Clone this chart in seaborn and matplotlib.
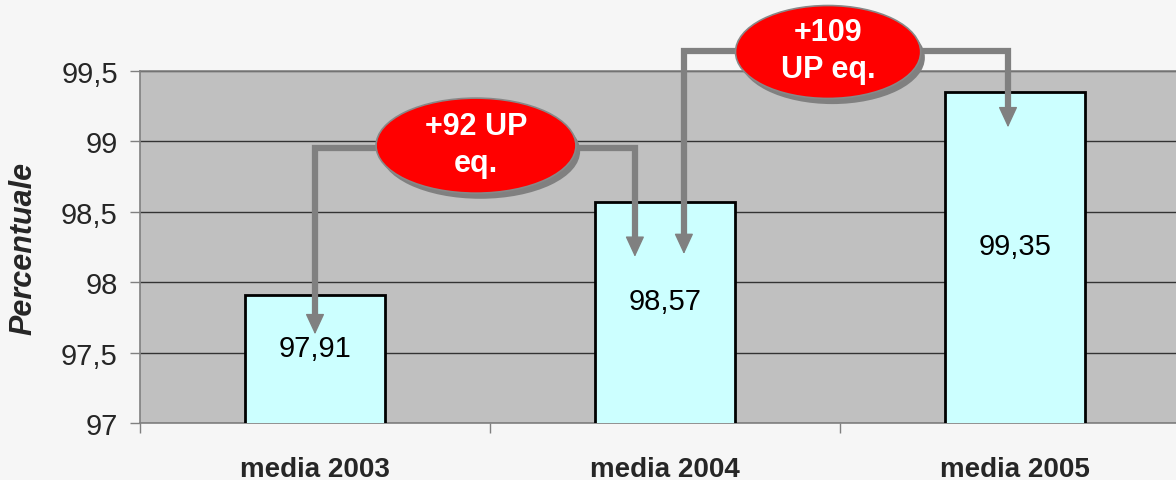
import matplotlib
matplotlib.use("Agg")
import matplotlib.pyplot as plt
import seaborn as sns
import pandas as pd
from matplotlib.patches import Ellipse
from matplotlib.ticker import FixedLocator, FuncFormatter

categories = ["media 2003", "media 2004", "media 2005"]
values = [97.91, 98.57, 99.35]
value_labels = ["97,91", "98,57", "99,35"]
bubble_texts = ["+92 UP\neq.", "+109\nUP eq."]
y_ticks = [97, 97.5, 98, 98.5, 99, 99.5]

sns.set_theme(style="white")
plt.rcParams['font.family'] = ['Liberation Sans', 'DejaVu Sans']

fig = plt.figure(figsize=(11.76, 4.81), dpi=100)
fig.patch.set_facecolor("#F6F6F6")
W, H = 1176, 481
ax = fig.add_axes([140 / W, (H - 424) / H, 1050 / W, 352 / H])
ax.set_facecolor("#C0C0C0")

df = pd.DataFrame({"cat": categories, "val": values})
sns.barplot(data=df, x="cat", y="val", ax=ax, color="#CCFFFF", saturation=1,
            edgecolor="black", linewidth=2, width=0.4, zorder=3)

ax.set_ylim(97, 99.5)
ax.set_xlim(-0.5, 2.5)
ax.set_yticks(y_ticks)
ax.yaxis.set_major_formatter(FuncFormatter(lambda v, p: (f"{v:g}").replace(".", ",")))
ax.yaxis.grid(True, color="#333333", linewidth=1)
ax.set_axisbelow(True)
for s in ax.spines.values():
    s.set_color("#808080")
    s.set_linewidth(1.2)
ax.tick_params(axis="y", which="major", direction="out", length=7, width=1,
               color="#808080", labelsize=21, pad=9, left=True)
ax.tick_params(axis="x", which="major", length=0, labelsize=20, pad=24)
ax.xaxis.set_minor_locator(FixedLocator([-0.5, 0.5, 1.5, 2.5]))
ax.tick_params(axis="x", which="minor", direction="out", length=7, width=1,
               color="#808080", bottom=True)
for lab in ax.get_xticklabels():
    lab.set_fontweight("bold")
ax.set_xlabel("")
ax.set_ylabel("Percentuale", fontsize=22, fontweight="bold", fontstyle="italic", labelpad=16)

# value labels inside bars
for i, (v, t) in enumerate(zip(values, value_labels)):
    ax.text(i, 97 + (v - 97) / 2 + 0.08, t, ha="center", va="center",
            fontsize=21, color="black", zorder=5)

arrow_col = "#808080"
head = dict(arrowstyle="-|>,head_width=0.6,head_length=1.3", mutation_scale=10,
            color=arrow_col, lw=1, shrinkA=0, shrinkB=0)

def elbow(xs, ys):
    ax.plot([xs[0]] + xs[1:-1] + [xs[-1]], [ys[0] + 0.1] + ys[1:-1] + [ys[-1] + 0.1],
            color=arrow_col, linewidth=4.5, solid_joinstyle="miter",
            solid_capstyle="butt", clip_on=False, zorder=6)
    for x, y in ((xs[0], ys[0]), (xs[-1], ys[-1])):
        ax.annotate("", xy=(x, y), xytext=(x, y + 0.14),
                    arrowprops=head, annotation_clip=False, zorder=6)

# arrow 2003 -> 2004 (both ends point down)
elbow([0, 0, 0.914, 0.914], [97.63, 98.95, 98.95, 98.18])
# arrow 2004 -> 2005
elbow([1.054, 1.054, 1.98, 1.98], [98.2, 99.64, 99.64, 99.1])

bubbles = [((0.46, 98.97), 0.571, 0.675), ((1.466, 99.635), 0.529, 0.66)]
for ((cx, cy), w, h), txt in zip(bubbles, bubble_texts):
    sh = Ellipse((cx + 0.012, cy - 0.04), w, h, facecolor="#808080",
                 edgecolor="none", clip_on=False, zorder=7)
    ax.add_patch(sh)
    e = Ellipse((cx, cy), w, h, facecolor="#FF0000", edgecolor="#888888",
                linewidth=1.2, clip_on=False, zorder=8)
    ax.add_patch(e)
    ax.text(cx, cy + 0.01, txt, ha="center", va="center", color="white",
            fontsize=22, fontweight="bold", linespacing=1.3, zorder=9)

fig.savefig("out.png", dpi=100, facecolor=fig.get_facecolor())
